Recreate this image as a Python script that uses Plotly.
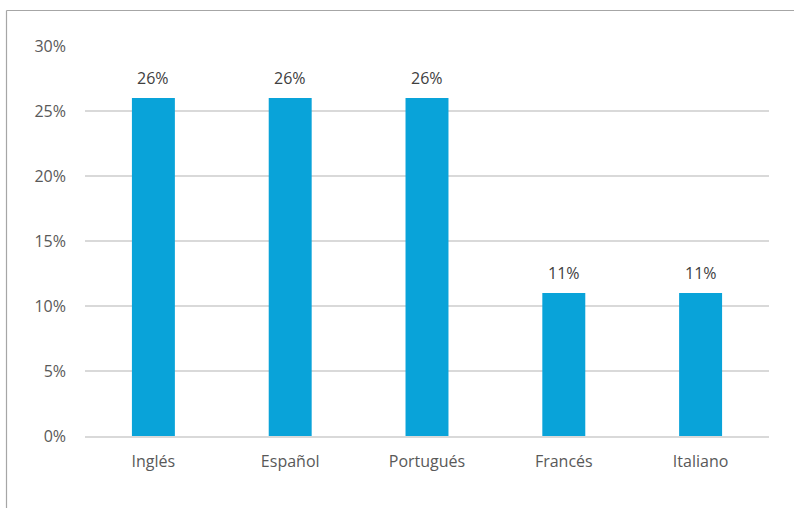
import plotly.graph_objects as go

categories = ["Inglés", "Español", "Portugués", "Francés", "Italiano"]
values = [0.26, 0.26, 0.26, 0.11, 0.11]
labels = ["26%", "26%", "26%", "11%", "11%"]
y_ticks = [0, 0.05, 0.10, 0.15, 0.20, 0.25, 0.30]
y_tick_labels = ["0%", "5%", "10%", "15%", "20%", "25%", "30%"]

FONT = "Open Sans, Liberation Sans, sans-serif"
TXT = "#595959"

fig = go.Figure(go.Bar(
    x=categories, y=values,
    marker=dict(color="#09A3D9", line=dict(width=0)),
    hoverinfo="x+y",
))

for c, v, t in zip(categories, values, labels):
    fig.add_annotation(x=c, y=v, text=t, showarrow=False, yanchor="bottom",
                       yshift=7, font=dict(size=16, color="#404040", family=FONT))

fig.update_layout(
    width=794, height=508,
    margin=dict(l=85, r=25, t=46, b=72),
    paper_bgcolor="white", plot_bgcolor="white",
    bargap=0.686, showlegend=False,
    font=dict(family=FONT, size=16, color=TXT),
    xaxis=dict(showgrid=False, showline=True, linecolor="#D9D9D9", linewidth=1.5,
               ticks="", tickfont=dict(size=16, color=TXT), ticklabelstandoff=10),
    yaxis=dict(range=[0, 0.30], tickvals=y_ticks, ticktext=y_tick_labels,
               showgrid=True, gridcolor="#D9D9D9", gridwidth=1.5, zeroline=False,
               showline=False, ticks="", tickfont=dict(size=16, color=TXT),
               ticklabelstandoff=18),
    shapes=[
        dict(type="line", xref="paper", yref="paper", x0=-78.5/684, x1=1 + 25/684,
             y0=1 + 35.5/390, y1=1 + 35.5/390, line=dict(color="#A6A6A6", width=1.2)),
        dict(type="line", xref="paper", yref="paper", x0=-78.5/684, x1=-78.5/684,
             y0=1 + 35.5/390, y1=-72/390, line=dict(color="#A6A6A6", width=1.2)),
    ],
)

fig.write_html("out.html", config={"displayModeBar": False},
               post_script="document.body.style.margin='0';document.body.style.padding='0';")
